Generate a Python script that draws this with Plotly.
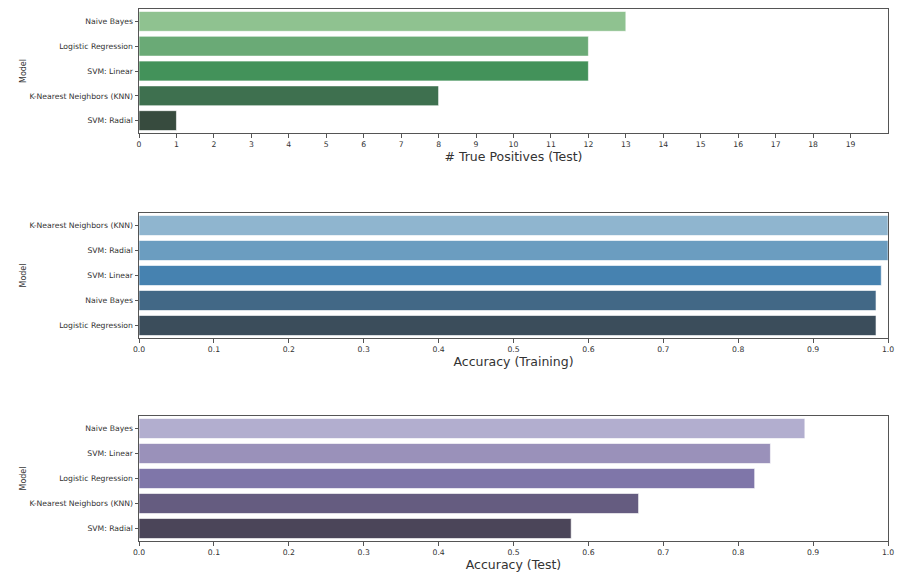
import plotly.graph_objects as go

# panel 1: true positives on the test set
tp_models = ["Naive Bayes", "Logistic Regression", "SVM: Linear",
             "K-Nearest Neighbors (KNN)", "SVM: Radial"]
tp_values = [13, 12, 12, 8, 1]
tp_colors = ["#8fc290", "#6aaa76", "#43925a", "#3e704f", "#374b3e"]

# panel 2: training accuracy
train_models = ["K-Nearest Neighbors (KNN)", "SVM: Radial", "SVM: Linear",
                "Naive Bayes", "Logistic Regression"]
train_values = [1.0, 1.0, 0.991, 0.984, 0.984]
train_colors = ["#8fb5cf", "#6b9dc0", "#4682b0", "#426886", "#3b4d5b"]

# panel 3: test accuracy
test_models = ["Naive Bayes", "SVM: Linear", "Logistic Regression",
               "K-Nearest Neighbors (KNN)", "SVM: Radial"]
test_values = [0.889, 0.843, 0.822, 0.667, 0.577]
test_colors = ["#b2aecf", "#9a91ba", "#7f76a9", "#655c80", "#4b4559"]

tp_ticks = list(range(0, 20))
acc_ticks = [0.0, 0.1, 0.2, 0.3, 0.4, 0.5, 0.6, 0.7, 0.8, 0.9, 1.0]

# the page puts the figure 8px in from the top-left corner
OFF = 8
W, H = 916 - OFF, 584 - OFF
FONT = "DejaVu Sans"


def px_x(p):
    return (p - OFF) / W


def px_y(p):
    return 1 - (p - OFF) / H


fig = go.Figure()

panels = [
    (tp_models, tp_values, tp_colors, "", ""),
    (train_models, train_values, train_colors, "2", "2"),
    (test_models, test_values, test_colors, "3", "3"),
]
for models, vals, cols, xa, ya in panels:
    fig.add_trace(go.Bar(
        x=vals, y=models, orientation="h", width=0.8,
        marker=dict(color=cols, line=dict(color="rgba(255,255,255,0.6)", width=1)),
        xaxis="x" + xa, yaxis="y" + ya, showlegend=False,
    ))

# pixel boxes of the three plot areas (top, bottom), in page coords
boxes = [(9, 133), (213, 338), (416, 541)]
titles = ["# True Positives (Test)", "Accuracy (Training)", "Accuracy (Test)"]
ranges = [[0, 20], [0, 1.0], [0, 1.0]]
tickvals = [tp_ticks, acc_ticks, acc_ticks]

axis_common = dict(
    showline=True, linecolor="#555555", linewidth=1, mirror=True,
    ticks="outside", ticklen=3.5, tickcolor="#555555", tickwidth=1,
    showgrid=False, zeroline=False, automargin=False,
    tickfont=dict(family=FONT, size=7.7, color="#333333"),
)

layout = {}
for i, ((top, bot), title, rng, tv) in enumerate(zip(boxes, titles, ranges, tickvals)):
    suffix = "" if i == 0 else str(i + 1)
    layout["xaxis" + suffix] = dict(
        axis_common,
        domain=[px_x(139), px_x(888)],
        anchor="y" + suffix,
        range=rng, tickvals=tv,
        ticktext=[f"{v:.1f}" for v in tv] if i > 0 else [str(v) for v in tv],
        title=dict(text=title, standoff=3,
                   font=dict(family=FONT, size=12.5, color="#333333")),
    )
    layout["yaxis" + suffix] = dict(
        axis_common,
        domain=[px_y(bot), px_y(top)],
        anchor="x" + suffix,
        range=[4.5, -0.5], type="category",
        title=dict(text="Model", standoff=1,
                   font=dict(family=FONT, size=8, color="#333333")),
    )

fig.update_layout(
    width=W, height=H,
    margin=dict(l=0, r=0, t=0, b=0),
    paper_bgcolor="white", plot_bgcolor="white",
    bargap=0.2,
    shapes=[dict(type="line", xref="paper", yref="paper",
                 x0=px_x(913), x1=px_x(913), y0=0, y1=1,
                 line=dict(color="#bbbbbb", width=1))],
    **layout,
)

fig.write_html("out.html")
